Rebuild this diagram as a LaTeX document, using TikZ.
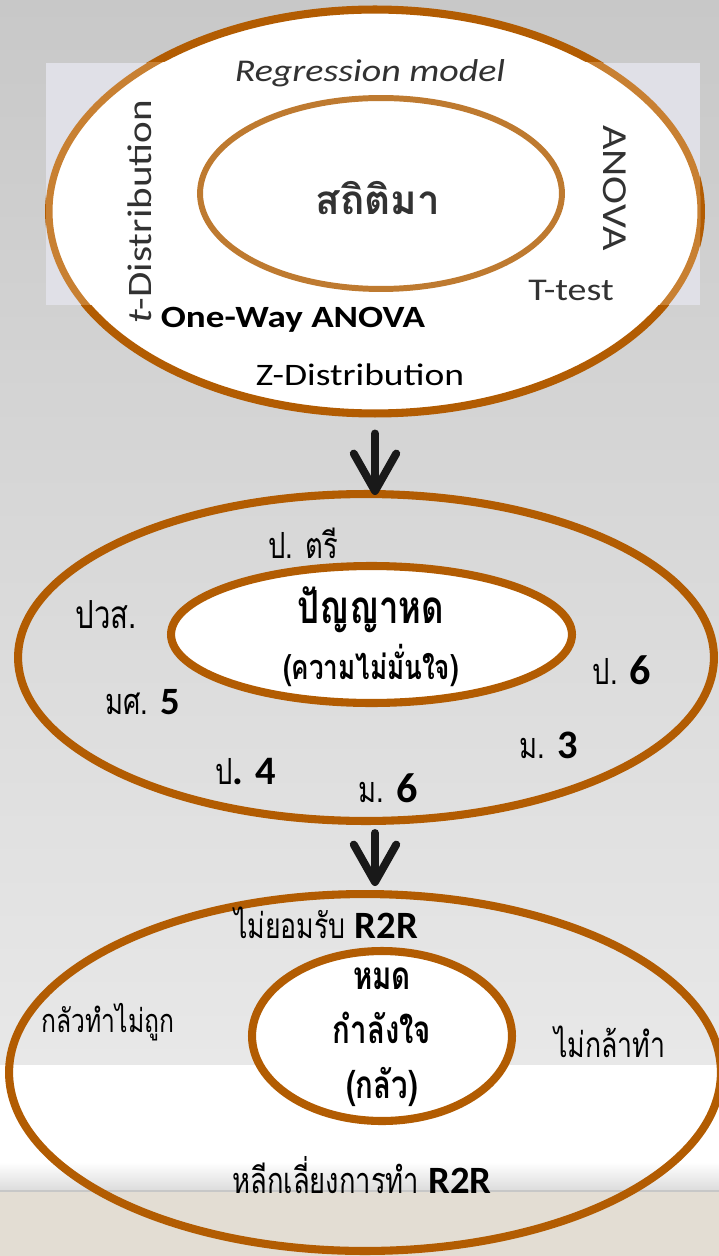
\documentclass[tikz,border=0pt]{standalone}
\usepackage{fontspec}
\setmainfont{Carlito}
\newfontfamily\widefont[FakeStretch=1.2]{Carlito}
\newfontfamily\thaifont[Script=Thai,FakeStretch=0.76]{Loma}
\newfontfamily\thaiwide[Script=Thai]{Loma}
\usetikzlibrary{
  arrows.meta,
  positioning,
  shapes.geometric
}
\definecolor{ringbrown}{RGB}{178,92,2}
\definecolor{fadebrown}{RGB}{200,128,50}
\definecolor{slidegray}{RGB}{200,200,200}
\definecolor{slidelight}{RGB}{232,232,232}
\definecolor{footbeige}{RGB}{227,221,211}
\definecolor{insetwhite}{RGB}{224,224,231}
\definecolor{textgray}{RGB}{50,50,50}
\newcommand{\fs}[1]{\fontsize{#1}{#1}\selectfont}

\begin{document}
\begin{tikzpicture}[x=0.02cm, y=-0.02cm,
    ring/.style={ellipse, draw=ringbrown, line width=4.6pt, inner sep=0pt},
    core/.style={ellipse, draw=ringbrown, fill=white, line width=4.6pt, inner sep=0pt},
    lbl/.style={inner sep=0pt, font=\fs{20.5}\thaifont},
    inset/.style={inner sep=0pt, text=textgray},
    flow/.style={line width=4.5pt, draw=black!90, line cap=round,
      -{Straight Barb[length=0.75cm, width=0.85cm, line cap=round, line join=round]}}]
            % Slide background
            \useasboundingbox (0,0) rectangle (719,1256);
            \shade[top color=slidegray, bottom color=slidelight] (0,0) rectangle (719,1065);
            \fill[white] (0,1065) rectangle (719,1162);
            \shade[top color=white, bottom color=black!14] (0,1162) rectangle (719,1191);
            \fill[footbeige] (0,1191) rectangle (719,1256);
            \draw[black!22, line width=0.6pt] (0,1191) -- (719,1191);

            % Statistics ring (pasted picture)
            \node[ring, fill=white, minimum width=13.04cm, minimum height=8.08cm] (statring) at (375,211.5) {};
            \begin{scope}
              \clip (46,63) rectangle (700,305);
              \fill[insetwhite] (46,63) rectangle (700,305);
              \fill[white] (375,211.5) ellipse [x radius=326, y radius=202];
              \draw[fadebrown, line width=4pt] (375,211.5) ellipse [x radius=326, y radius=202];
            \end{scope}
            \node[ellipse, draw=fadebrown!95!black, line width=3.4pt, minimum width=7.24cm, minimum height=3.82cm] (statcore) at (381,193.5) {};
            \node[inset, font=\fs{18}\widefont\itshape] (regr) at (370,73) {Regression model};
            \node[inset, font=\fs{19.5}\widefont, rotate=90] (tdist) at (140,212) {\textit{t}-Distribution};
            \node[inset, font=\fs{20}\widefont, rotate=-90] (anova) at (615,188) {ANOVA};
            \node[inset, font=\fs{23}\thaiwide\bfseries] (satimaa) at (378,198) {สถิติมา};
            \node[inset, font=\fs{18}\widefont] (ttest) at (571,290) {T-test};
            \node[inner sep=0pt, font=\fs{17.6}\widefont\bfseries] (oneway) at (293,320) {One-Way ANOVA};
            \node[inner sep=0pt, font=\fs{17.8}\widefont] (zdist) at (360,375) {Z-Distribution};

            % Education ring
            \node[ring, minimum width=13.92cm, minimum height=6.54cm] (eduring) at (366,657.5) {};
            \node[core, minimum width=8.02cm, minimum height=2.74cm] (educore) at (371.5,634.5) {};
            \node[lbl, font=\fs{26}\thaifont\bfseries] (panya) at (371,610) {ปัญญาหด};
            \node[lbl, font=\fs{19.5}\thaifont\bfseries] (panyasub) at (371,665) {(ความไม่มั่นใจ)};
            \node[lbl] (ptri) at (303,543) {ป. ตรี};
            \node[lbl, font=\fs{22}\thaifont] (pwos) at (106,615) {ปวส.};
            \node[lbl] (pthree) at (622,670) {ป. \textbf{\rmfamily\fs{24}6}};
            \node[lbl] (msfive) at (143,702) {มศ. \textbf{\rmfamily\fs{22}5}};
            \node[lbl] (mthree) at (549,745) {ม. \textbf{\rmfamily\fs{23}3}};
            \node[lbl] (pfour) at (246,772) {ป\textbf{\rmfamily\fs{23}. 4}};
            \node[lbl] (msix) at (388,788) {ม. \textbf{\rmfamily\fs{24}6}};

            % Fear ring
            \node[ring, minimum width=14.24cm, minimum height=7.14cm] (fearring) at (365,1072.5) {};
            \node[core, minimum width=5.2cm, minimum height=3.4cm] (fearcore) at (382,1036) {};
            \node[lbl, font=\fs{20}\thaifont] (noaccept) at (326,923) {ไม่ยอมรับ \textbf{\rmfamily\fs{22}R2R}};
            \node[lbl, font=\fs{22}\thaifont\bfseries, align=center] (exhaust) at (382,1037) {หมด\\[9pt]กำลังใจ\\[9pt](กลัว)};
            \node[lbl, font=\fs{18.5}\thaifont] (fearwrong) at (108,1022) {กลัวทำไม่ถูก};
            \node[lbl, font=\fs{20}\thaifont] (notdare) at (610,1042) {ไม่กล้าทำ};
            \node[lbl, font=\fs{20.5}\thaifont] (avoid) at (362,1175) {หลีกเลี่ยงการทำ \textbf{\rmfamily\fs{22}R2R}};

            % Connectors
            \draw[flow, shorten <=0.32cm, shorten >=-0.1cm] (statring.south) -- (statring.south |- eduring.north);
            \draw[flow, shorten <=0.16cm, shorten >=0.08cm] (statring.south |- eduring.south) -- (statring.south |- fearring.north);
        \end{tikzpicture}
\end{document}
